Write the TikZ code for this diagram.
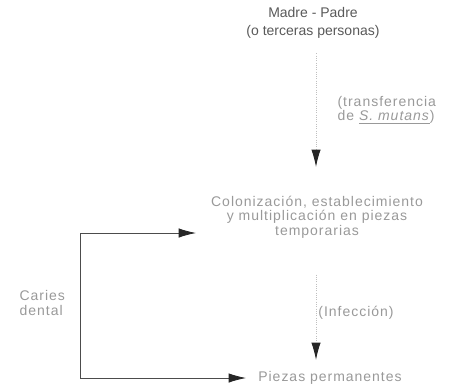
\documentclass[tikz,border=0pt]{standalone}
\usepackage{fontspec}
\setmainfont{Liberation Sans}
\newfontfamily\widefont[LetterSpace=7]{Liberation Sans}
\usetikzlibrary{arrows.meta}

\begin{document}
\begin{tikzpicture}[x=0.75pt, y=-0.75pt, inner sep=1pt,
   >={Latex[length=13pt,width=7pt,color=black!85]},
   txt/.style={text=black!65, font=\fontsize{10.5}{13.5}\selectfont, align=center},
   faint/.style={text=black!40, font=\widefont\fontsize{10.5}{11}\selectfont, align=center},
   guide/.style={draw=black!25, densely dotted, line width=0.7pt},
   bracket/.style={draw=black!70, line width=0.6pt}
   ]
   \useasboundingbox (0,0) rectangle (470,389);

   % main chain
   \path (313,23) node[txt] (padres) {Madre - Padre\\(o terceras personas)}
   (317,217) node[faint] (colon) {Colonización, establecimiento\\y multiplicación en piezas\\temporarias}
   (330,378) node[faint] (perm) {Piezas permanentes};

   % side labels
   \path (336,110) node[faint, anchor=west, align=left] (transf) {(transferencia\\de \underline{\textit{S. mutans}})}
   (356,313) node[faint] (infec) {(Infección)}
   (18,303) node[faint, anchor=west, align=left] (caries) {Caries\\dental};

   \coordinate (tipA) at (316,167);
   \coordinate (tipB) at (316,360);
   \coordinate (c1) at (80,233);
   \coordinate (c2) at (80,378);
   \coordinate (e1) at (196,233);
   \coordinate (e2) at (246,378);

   \draw[guide, ->] ([yshift=-10pt]padres.south -| tipA) -- (tipA);
   \draw[guide, ->] ([yshift=-26pt]colon.south -| tipB) -- (tipB);

   \draw[bracket, ->] (c1) -- (e1);
   \draw[bracket, ->] (c1) -- (c2) -- (e2);

\end{tikzpicture}
\end{document}
